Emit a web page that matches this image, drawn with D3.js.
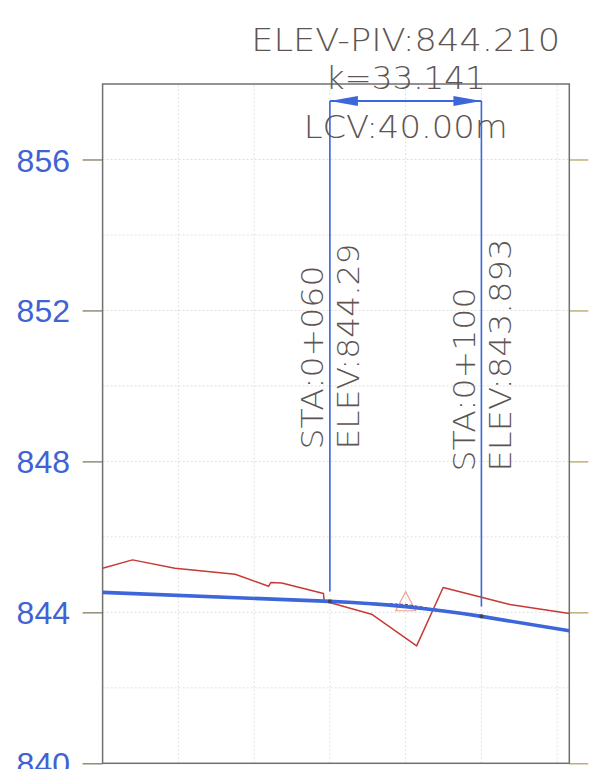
<!DOCTYPE html>
<html>
<head>
<meta charset="utf-8">
<script src="https://cdn.jsdelivr.net/npm/d3@7"></script>
<style>
  body { margin: 0; background: #fff; }
  svg { display: block; }
</style>
</head>
<body>
<svg id="svg"></svg>
<script>
// ground profile (station m, elevation m)
const groundSta  = [0, 7.9, 19.1, 35.0, 43.8, 44.4, 47.3, 58.3, 58.5, 71.0, 82.9, 89.9, 100.0, 107.5, 123.2];
const groundElev = [845.17, 845.39, 845.17, 845.01, 844.69, 844.79, 844.78, 844.50, 844.30, 843.95, 843.11, 844.66, 844.40, 844.21, 843.97];

// design grade line with the vertical curve
const gradeSta  = [0, 60, 65, 70, 75, 80, 85, 90, 95, 100, 123.2];
const gradeElev = [844.53, 844.29, 844.266, 844.235, 844.197, 844.151, 844.097, 844.037, 843.969, 843.893, 843.51];

// tangents PCV -> PIV -> PTV
const tangentSta  = [60, 80, 100];
const tangentElev = [844.29, 844.21, 843.893];

const curvePoints = [
    { sta: 60, elev: 844.29, staLabel: 'STA:0+060', elevLabel: 'ELEV:844.29' },
    { sta: 100, elev: 843.893, staLabel: 'STA:0+100', elevLabel: 'ELEV:843.893' },
];
const piv = { sta: 80, elev: 844.21 };
const headerLines = ['ELEV-PIV:844.210', 'k=33.141', 'LCV:40.00m'];

const yTicks = [840, 844, 848, 852, 856];
const yGrid = [842, 844, 846, 848, 850, 852, 854, 856];
const xGrid = [20, 40, 60, 80, 100, 120];

const width = 607;
const height = 769;

const x = d3.scaleLinear().domain([0, 123.2]).range([102.6, 569.3]);
const y = d3.scaleLinear().domain([840, 858]).range([763.3, 84]);

const textColor = '#5e5553';
const blue = '#3c66d9';
const capFont = '"DejaVu Sans", sans-serif';

const svg = d3.select('#svg')
    .attr('width', width)
    .attr('height', height)
    .attr('viewBox', [0, 0, width, height]);

// grid
svg.append('g')
    .attr('stroke', '#e2e0dc')
    .attr('stroke-width', 1)
    .attr('stroke-dasharray', '2,2')
    .call(g => g.selectAll('.h')
        .data(yGrid)
        .join('line')
            .attr('x1', x.range()[0]).attr('x2', x.range()[1])
            .attr('y1', d => y(d)).attr('y2', d => y(d)))
    .call(g => g.selectAll('.v')
        .data(xGrid)
        .join('line')
            .attr('x1', d => x(d)).attr('x2', d => x(d))
            .attr('y1', y.range()[0]).attr('y2', y.range()[1]));

// axes
svg.append('g')
    .attr('transform', `translate(${x.range()[0]},0)`)
    .call(d3.axisLeft(y).tickValues(yTicks).tickSize(20).tickPadding(12.6))
    .call(g => g.select('.domain').remove())
    .call(g => g.selectAll('.tick line').attr('stroke', '#857a62').attr('stroke-width', 1.3))
    .call(g => g.selectAll('.tick text')
        .attr('fill', '#3f63d4')
        .attr('font-family', '"Liberation Sans", Arial, sans-serif')
        .attr('font-size', 32)
        .attr('dy', '0.36em'));

svg.append('g')
    .attr('transform', `translate(${x.range()[1]},0)`)
    .call(d3.axisRight(y).tickValues(yTicks).tickSize(19).tickFormat(''))
    .call(g => g.select('.domain').remove())
    .call(g => g.selectAll('.tick line').attr('stroke', '#b3a465').attr('stroke-width', 1.3));

// frame
svg.append('rect')
    .attr('x', x.range()[0])
    .attr('y', y.range()[1])
    .attr('width', x.range()[1] - x.range()[0])
    .attr('height', y.range()[0] - y.range()[1])
    .attr('fill', 'none')
    .attr('stroke', '#707070')
    .attr('stroke-width', 1.5);

// ground line
const line = d3.line().x(d => x(d[0])).y(d => y(d[1]));
svg.append('path')
    .attr('d', line(d3.zip(groundSta, groundElev)))
    .attr('fill', 'none')
    .attr('stroke', '#c63a36')
    .attr('stroke-width', 1.5)
    .attr('stroke-linejoin', 'round');

// PIV marker
const triH = 19, triW = 20;
svg.append('path')
    .attr('transform', `translate(${x(piv.sta)},${y(piv.elev)})`)
    .attr('d', `M0,${-triH * 2 / 3}L${triW / 2},${triH / 3}L${-triW / 2},${triH / 3}Z`)
    .attr('fill', 'none')
    .attr('stroke', '#f0a290')
    .attr('stroke-width', 1.2);

// tangents
svg.append('path')
    .attr('d', line(d3.zip(tangentSta, tangentElev)))
    .attr('fill', 'none')
    .attr('stroke', '#333')
    .attr('stroke-width', 1)
    .attr('stroke-dasharray', '3,2');

// grade line
svg.append('path')
    .attr('d', line(d3.zip(gradeSta, gradeElev)))
    .attr('fill', 'none')
    .attr('stroke', blue)
    .attr('stroke-width', 3.6)
    .attr('stroke-linejoin', 'round');

// curve ends
svg.append('g')
    .selectAll('rect')
    .data(curvePoints)
    .join('rect')
        .attr('x', d => x(d.sta) - 1.8)
        .attr('y', d => y(d.elev) - 1.8)
        .attr('width', 3.6)
        .attr('height', 3.6)
        .attr('fill', '#444');

// LCV dimension
const arrowY = 101;
svg.append('g')
    .attr('stroke', blue)
    .attr('stroke-width', 1.6)
    .selectAll('line')
    .data(curvePoints)
    .join('line')
        .attr('x1', d => x(d.sta)).attr('x2', d => x(d.sta))
        .attr('y1', arrowY).attr('y2', d => y(d.elev) - 10);

svg.append('line')
    .attr('x1', x(curvePoints[0].sta)).attr('x2', x(curvePoints[1].sta))
    .attr('y1', arrowY).attr('y2', arrowY)
    .attr('stroke', blue)
    .attr('stroke-width', 2);

const headLen = 28, headW = 5;
svg.append('g')
    .attr('fill', blue)
    .selectAll('path')
    .data(curvePoints)
    .join('path')
        .attr('d', (d, i) => {
            const x0 = x(d.sta);
            const s = i === 0 ? 1 : -1;
            return `M${x0},${arrowY}L${x0 + s * headLen},${arrowY - headW}L${x0 + s * headLen},${arrowY + headW}Z`;
        });

// header texts
const headerBase = [50.7, 89, 137.7];
const headerLen = [309, 160, 204];
svg.append('g')
    .attr('fill', textColor)
    .attr('font-family', capFont)
    .attr('font-weight', 200)
    .attr('font-size', 32)
    .attr('text-anchor', 'middle')
    .selectAll('text')
    .data(headerLines)
    .join('text')
        .attr('x', x(piv.sta))
        .attr('y', (d, i) => headerBase[i])
        .attr('textLength', (d, i) => headerLen[i])
        .attr('lengthAdjust', 'spacingAndGlyphs')
        .text(d => d);

// station / elevation labels, rotated
const labelStart = [449.5, 471.5];
const staLen = [184, 184];
const elevLen = [206, 233];
const labels = svg.append('g')
    .attr('fill', textColor)
    .attr('font-family', capFont)
    .attr('font-weight', 200)
    .attr('font-size', 31)
    .selectAll('g')
    .data(curvePoints)
    .join('g');

labels.append('text')
    .attr('transform', (d, i) => `translate(${x(d.sta) - 6.6},${labelStart[i]}) rotate(-90)`)
    .attr('textLength', (d, i) => staLen[i])
    .attr('lengthAdjust', 'spacingAndGlyphs')
    .text(d => d.staLabel);

labels.append('text')
    .attr('transform', (d, i) => `translate(${x(d.sta) + 29.5},${labelStart[i]}) rotate(-90)`)
    .attr('textLength', (d, i) => elevLen[i])
    .attr('lengthAdjust', 'spacingAndGlyphs')
    .text(d => d.elevLabel);
</script>
</body>
</html>
